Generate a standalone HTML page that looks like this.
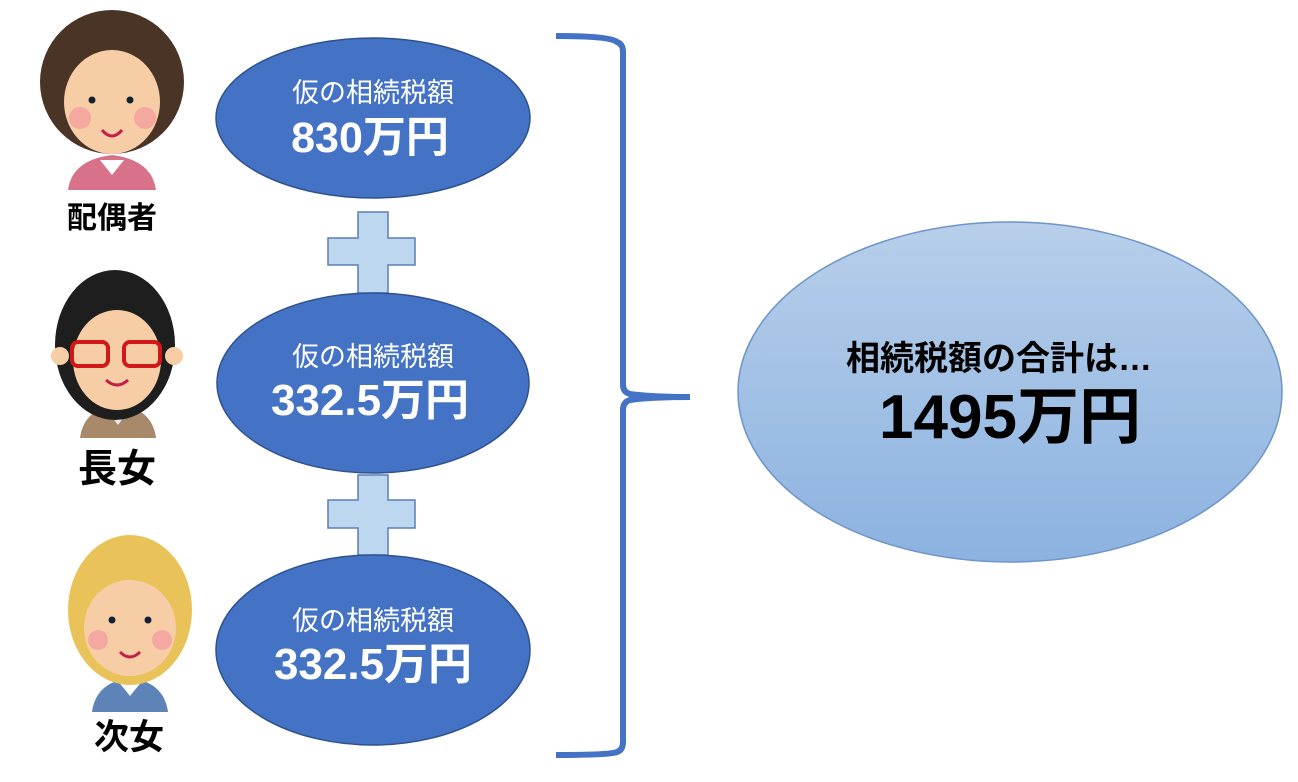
<!DOCTYPE html>
<html><head><meta charset="utf-8"><style>
body{margin:0;background:#fff;width:1298px;height:777px;overflow:hidden;font-family:"Liberation Sans","Noto Sans CJK JP",sans-serif}
</style></head><body>
<svg width="1298" height="777" viewBox="0 0 1298 777" xmlns="http://www.w3.org/2000/svg" font-family="Liberation Sans, Noto Sans CJK JP, sans-serif">
<defs>
<linearGradient id="g" x1="0" y1="0" x2="0" y2="1"><stop offset="0" stop-color="#b7cfea"/><stop offset="1" stop-color="#8cb2e0"/></linearGradient>
</defs>
<!-- person 1 -->
<path d="M68 190 Q72 160 112 155 Q152 160 156 190 Z" fill="#d8728a"/>
<path d="M100 160 L112 175 L124 160 Z" fill="#fff"/>
<circle cx="112" cy="82" r="72" fill="#4a3426"/>
<ellipse cx="112" cy="102" rx="48" ry="52" fill="#f7cda6"/>
<circle cx="80" cy="118" r="11" fill="#f4a8a0"/><circle cx="145" cy="118" r="11" fill="#f4a8a0"/>
<circle cx="92" cy="100" r="3.5" fill="#123"/><circle cx="130" cy="100" r="3.5" fill="#123"/>
<path d="M102 130 Q112 142 122 130" stroke="#c0204a" stroke-width="3" fill="none"/>
<text x="112" y="228" font-size="30" font-weight="bold" text-anchor="middle" fill="#000">配偶者</text>
<!-- person 2 -->
<path d="M80 438 Q84 408 118 405 Q152 408 156 438 Z" fill="#a8896a"/>
<path d="M105 408 L118 425 L131 408 Z" fill="#e8e8e8"/>
<ellipse cx="115" cy="345" rx="60" ry="75" fill="#1e1e1e"/>
<ellipse cx="117" cy="360" rx="44" ry="50" fill="#f7cda6"/>
<circle cx="60" cy="356" r="9" fill="#f7cda6"/><circle cx="174" cy="356" r="9" fill="#f7cda6"/>
<rect x="72" y="342" width="36" height="24" rx="6" fill="none" stroke="#d01818" stroke-width="4"/>
<rect x="124" y="342" width="36" height="24" rx="6" fill="none" stroke="#d01818" stroke-width="4"/>
<path d="M106 380 Q117 390 128 380" stroke="#c0204a" stroke-width="3" fill="none"/>
<text x="117" y="482" font-size="39" font-weight="bold" text-anchor="middle" fill="#000">長女</text>
<!-- person 3 -->
<path d="M92 712 Q96 682 130 678 Q164 682 168 712 Z" fill="#5e83b8"/>
<path d="M117 680 L130 696 L143 680 Z" fill="#fff"/>
<ellipse cx="130" cy="610" rx="62" ry="75" fill="#e9c35a"/>
<ellipse cx="130" cy="628" rx="46" ry="48" fill="#f7cda6"/>
<circle cx="98" cy="640" r="10" fill="#f4a8a0"/><circle cx="162" cy="640" r="10" fill="#f4a8a0"/>
<circle cx="112" cy="620" r="3.5" fill="#123"/><circle cx="148" cy="620" r="3.5" fill="#123"/>
<path d="M120 652 Q130 662 140 652" stroke="#c0204a" stroke-width="3" fill="none"/>
<text x="129" y="749" font-size="35" font-weight="bold" text-anchor="middle" fill="#000">次女</text>
<!-- plus signs -->
<path d="M358 212 H388 V238 H415 V265 H388 V293 H358 V265 H328 V238 H358 Z" fill="#bdd7ee" stroke="#5b7fb5" stroke-width="1.5"/>
<path d="M358 475 H388 V500 H415 V528 H388 V555 H358 V528 H328 V500 H358 Z" fill="#bdd7ee" stroke="#5b7fb5" stroke-width="1.5"/>
<!-- ellipses -->
<ellipse cx="373" cy="118" rx="157" ry="80" fill="#4472c4" stroke="#2f528f" stroke-width="1.5"/>
<ellipse cx="373" cy="383" rx="156" ry="90" fill="#4472c4" stroke="#2f528f" stroke-width="1.5"/>
<ellipse cx="373" cy="650" rx="157" ry="95" fill="#4472c4" stroke="#2f528f" stroke-width="1.5"/>
<g fill="#fff" text-anchor="middle">
<text x="373" y="102" font-size="27">仮の相続税額</text>
<text x="370" y="152" font-size="43" font-weight="bold">830万円</text>
<text x="373" y="366" font-size="27">仮の相続税額</text>
<text x="370" y="415" font-size="44" font-weight="bold">332.5万円</text>
<text x="373" y="630" font-size="27">仮の相続税額</text>
<text x="373" y="679" font-size="44" font-weight="bold">332.5万円</text>
</g>
<!-- brace -->
<path d="M556 36 Q610 36 617 42 Q623 44 623 52 V385 Q623 392 630 394 Q650 397 690 397 Q650 397 630 400 Q623 402 623 410 V742 Q623 750 617 752 Q610 755 556 755" fill="none" stroke="#4472c4" stroke-width="6"/>
<!-- big ellipse -->
<ellipse cx="1010" cy="392" rx="272" ry="170" fill="url(#g)" stroke="#6f94c8" stroke-width="1.5"/>
<text x="999" y="370" font-size="34" font-weight="bold" text-anchor="middle" fill="#000">相続税額の合計は…</text>
<text x="1010" y="438" font-size="62" font-weight="bold" text-anchor="middle" fill="#000">1495万円</text>
</svg>
</body></html>
